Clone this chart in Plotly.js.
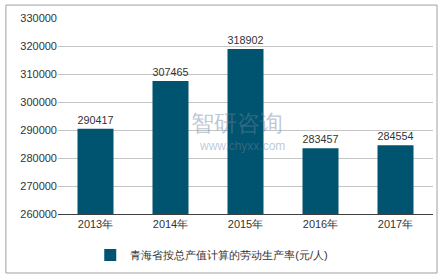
<!DOCTYPE html>
<html><head><meta charset="utf-8">
<script src="https://cdn.plot.ly/plotly-3.0.1.min.js"></script>
<style>html,body{margin:0;padding:0;background:#fff}#c{width:443px;height:280px}</style>
</head><body><div id="c"></div>
<script>
var categories = ['2013年','2014年','2015年','2016年','2017年'];
var values = [290417, 307465, 318902, 283457, 284554];
var seriesName = '青海省按总产值计算的劳动生产率(元/人)';
var yTicks = [260000,270000,280000,290000,300000,310000,320000,330000];

var trace = {
  type:'bar', x:categories, y:values, name:seriesName,
  marker:{color:'#005470'},
  text: values.map(String), textposition:'outside', cliponaxis:false,
  textfont:{family:'Liberation Sans, Arial, sans-serif', size:11, color:'#333'}
};
var layout = {
  width:443, height:280,
  margin:{l:58, r:10, t:18, b:55},
  paper_bgcolor:'#fff', plot_bgcolor:'#fff',
  font:{family:'Liberation Sans, Arial, sans-serif', size:11, color:'#333'},
  bargap:0.52,
  showlegend:true,
  legend:{orientation:'h', x:0.41, xanchor:'center', y:-0.209, yanchor:'middle', font:{size:11,color:'#333'}, itemwidth:30},
  xaxis:{type:'category', showline:true, linecolor:'#404040', linewidth:1, ticks:'', tickfont:{size:11}},
  yaxis:{range:[260000,330000], tickvals:yTicks, ticktext:yTicks.map(String), showgrid:true, gridcolor:'#c4c4c4', zeroline:false, ticks:'', ticklen:0, tickfont:{size:11}},
  shapes:[{type:'rect', xref:'paper', yref:'paper', x0:-0.139, x1:1.0107, y0:-0.301, y1:1.066, line:{color:'#a0a0a0', width:1}}],
  annotations:[
    {text:'智研咨询', xref:'paper', yref:'paper', x:0.477, y:0.462, showarrow:false, font:{size:23, color:'rgba(110,130,160,0.45)'}},
    {text:'www.chyxx.com', xref:'paper', yref:'paper', x:0.49, y:0.30, showarrow:false, font:{size:12, color:'rgba(110,130,160,0.45)'}}
  ]
};
Plotly.newPlot('c',[trace],layout,{displayModeBar:false,staticPlot:true});
</script></body></html>
